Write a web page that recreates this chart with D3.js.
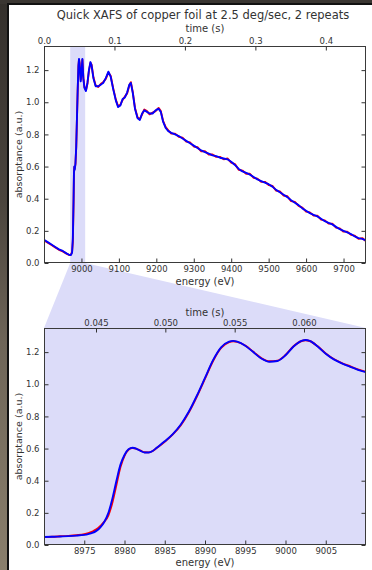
<!DOCTYPE html>
<html>
<head>
<meta charset="utf-8">
<script src="https://cdn.jsdelivr.net/npm/d3@7"></script>
<style>
html,body{margin:0;padding:0;background:#fff;}
svg{display:block;}
text{font-family:"DejaVu Sans",sans-serif;fill:#333;}
</style>
</head>
<body>
<svg id="chart" width="372" height="570"></svg>
<script>
// ---------- DATA ----------
const titleText = "Quick XAFS of copper foil at 2.5 deg/sec, 2 repeats";

// full scan (top panel)
const fullEnergy = [8900,8910,8920,8930,8940,8950,8960,8968,8972,8975,8977,8979,8980,8981,8982,8984,8986,8988,8990,8992,8993.5,8995,8998,9000,9002.5,9005,9008,9012,9016,9020,9024,9027,9032,9038,9045,9052,9058,9065,9072,9078,9085,9092,9098,9104,9110,9116,9122,9128,9132,9137,9143,9150,9156,9162,9168,9175,9182,9190,9198,9206,9212,9218,9225,9232,9240,9250,9260,9270,9280,9290,9300,9310,9320,9330,9340,9350,9360,9370,9380,9390,9400,9410,9420,9430,9440,9450,9460,9470,9480,9490,9500,9510,9520,9530,9540,9550,9560,9570,9580,9590,9600,9610,9620,9630,9640,9650,9660,9670,9680,9690,9700,9710,9720,9730,9740,9750,9760];
const fullBlue = [0.145,0.130,0.115,0.100,0.085,0.075,0.060,0.050,0.050,0.065,0.150,0.400,0.560,0.600,0.580,0.620,0.720,0.900,1.080,1.230,1.270,1.240,1.130,1.180,1.270,1.150,1.090,1.070,1.120,1.200,1.250,1.230,1.150,1.100,1.100,1.110,1.120,1.150,1.190,1.160,1.080,1.010,0.970,0.980,1.020,1.030,1.060,1.110,1.120,1.060,0.960,0.900,0.890,0.930,0.950,0.940,0.930,0.930,0.950,0.960,0.940,0.880,0.840,0.820,0.810,0.800,0.790,0.775,0.760,0.745,0.730,0.715,0.700,0.690,0.680,0.670,0.665,0.655,0.650,0.645,0.630,0.610,0.585,0.570,0.560,0.550,0.535,0.520,0.510,0.500,0.490,0.475,0.455,0.440,0.425,0.410,0.390,0.375,0.360,0.340,0.325,0.310,0.300,0.290,0.275,0.260,0.250,0.240,0.225,0.210,0.200,0.190,0.180,0.165,0.155,0.150,0.140];
const fullRed = [0.140,0.126,0.112,0.097,0.082,0.072,0.058,0.049,0.052,0.070,0.130,0.380,0.550,0.598,0.585,0.615,0.715,0.895,1.075,1.225,1.265,1.245,1.140,1.175,1.265,1.155,1.095,1.075,1.115,1.195,1.245,1.235,1.155,1.105,1.095,1.115,1.125,1.145,1.185,1.165,1.085,1.015,0.975,0.985,1.015,1.035,1.055,1.105,1.125,1.065,0.965,0.905,0.895,0.925,0.955,0.945,0.925,0.935,0.945,0.965,0.945,0.885,0.845,0.825,0.805,0.805,0.785,0.780,0.755,0.750,0.725,0.720,0.695,0.695,0.675,0.675,0.660,0.660,0.645,0.650,0.625,0.615,0.580,0.575,0.555,0.555,0.530,0.525,0.505,0.505,0.485,0.480,0.450,0.445,0.420,0.415,0.385,0.380,0.355,0.345,0.320,0.315,0.295,0.295,0.270,0.265,0.245,0.245,0.220,0.215,0.195,0.195,0.175,0.170,0.150,0.155,0.135];

// zoomed edge (bottom panel)
const edgeEnergy = [8970,8971,8972,8973,8974,8975,8975.5,8976,8976.5,8977,8977.5,8978,8978.5,8979,8979.5,8980,8980.5,8981,8981.5,8982,8982.5,8983,8983.5,8984,8985,8986,8987,8988,8989,8990,8991,8992,8993,8993.5,8994,8995,8996,8997,8998,8999,9000,9001,9002,9002.5,9003,9004,9005,9006,9007,9008,9009,9010];
const edgeBlue = [0.050,0.051,0.053,0.055,0.058,0.063,0.068,0.075,0.088,0.110,0.145,0.200,0.290,0.400,0.500,0.560,0.595,0.605,0.598,0.585,0.575,0.575,0.585,0.605,0.645,0.690,0.750,0.830,0.930,1.040,1.150,1.230,1.265,1.270,1.265,1.240,1.200,1.160,1.140,1.145,1.180,1.235,1.270,1.275,1.270,1.235,1.190,1.155,1.130,1.110,1.090,1.075];
const edgeRed = [0.049,0.051,0.054,0.057,0.061,0.067,0.074,0.084,0.097,0.118,0.145,0.185,0.265,0.375,0.485,0.555,0.593,0.603,0.598,0.587,0.577,0.576,0.585,0.603,0.642,0.688,0.746,0.826,0.925,1.035,1.145,1.226,1.262,1.268,1.264,1.241,1.202,1.163,1.143,1.147,1.182,1.236,1.269,1.274,1.269,1.236,1.192,1.157,1.132,1.112,1.092,1.077];

const yTicks = [0.0,0.2,0.4,0.6,0.8,1.0,1.2];
const fullEnergyTicks = [9000,9100,9200,9300,9400,9500,9600,9700];
const fullTimeTicks = [0.0,0.1,0.2,0.3,0.4];
const edgeEnergyTicks = [8975,8980,8985,8990,8995,9000,9005];
const edgeTimeTicks = [0.045,0.050,0.055,0.060];
const zoomWindow = [8970, 9010];

// ---------- LAYOUT ----------
const svg = d3.select("#chart");
const L = 44, R = 366;
const top1 = 46, bot1 = 263;
const top2 = 328, bot2 = 545;
const shade = "#dcdcf9";
const frameCol = "#3a3a3a";
const tickCol = "#333";

// background photo border
const defs = svg.append("defs");
const g1 = defs.append("linearGradient").attr("id","edgeGrad").attr("x1",0).attr("y1",0).attr("x2",0).attr("y2",1);
g1.append("stop").attr("offset","0%").attr("stop-color","#34302c");
g1.append("stop").attr("offset","35%").attr("stop-color","#4a443d");
g1.append("stop").attr("offset","60%").attr("stop-color","#6e6558");
g1.append("stop").attr("offset","100%").attr("stop-color","#8a7f6c");
svg.append("rect").attr("x",0).attr("y",0).attr("width",372).attr("height",570).attr("fill","url(#edgeGrad)");
svg.append("rect").attr("x",0).attr("y",0).attr("width",372).attr("height",4).attr("fill","#3a3632");
svg.append("rect").attr("x",7).attr("y",3).attr("width",365).attr("height",567).attr("fill","#111");
svg.append("rect").attr("x",9).attr("y",5).attr("width",363).attr("height",565).attr("fill","#fff");

// scales
const x1 = d3.scaleLinear().domain([8900, 9760]).range([L, R]);
const t1 = d3.scaleLinear().domain([0, 0.457]).range([L, R]);
const y1 = d3.scaleLinear().domain([0, 1.35]).range([bot1, top1]);
const x2 = d3.scaleLinear().domain([8970, 9010]).range([L, R]);
const t2 = d3.scaleLinear().domain([0.04125, 0.06447]).range([L, R]);
const y2 = d3.scaleLinear().domain([0, 1.35]).range([bot2, top2]);

// connector polygon + bottom bg
svg.append("polygon")
  .attr("points", [[x1(zoomWindow[0]), bot1],[x1(zoomWindow[1]), bot1],[R, top2],[L, top2]].map(p=>p.join(",")).join(" "))
  .attr("fill", shade);
svg.append("rect").attr("x",L).attr("y",top2).attr("width",R-L).attr("height",bot2-top2).attr("fill",shade);

// top panel span
svg.append("rect").attr("x",x1(zoomWindow[0])).attr("y",top1).attr("width",x1(zoomWindow[1])-x1(zoomWindow[0])).attr("height",bot1-top1).attr("fill",shade);

function drawPanel(xs, ts, ys, top, bot, eTicks, tTicks, tFmt, energy, red, blue, curve) {
  const clipId = "clip" + top;
  defs.append("clipPath").attr("id", clipId).append("rect").attr("x",L).attr("y",top).attr("width",R-L).attr("height",bot-top);
  const line = d3.line().x((d,i)=>xs(energy[i])).y(d=>ys(d)).curve(curve);
  const gl = svg.append("g").attr("clip-path","url(#"+clipId+")");
  gl.append("path").datum(red).attr("d", line).attr("fill","none").attr("stroke","#ff0000").attr("stroke-width",1.9).attr("stroke-linejoin","round");
  gl.append("path").datum(blue).attr("d", line).attr("fill","none").attr("stroke","#0000ff").attr("stroke-width",1.9).attr("stroke-linejoin","round");

  // frame
  svg.append("rect").attr("x",L+0.5).attr("y",top+0.5).attr("width",R-L-1).attr("height",bot-top-1)
    .attr("fill","none").attr("stroke",frameCol).attr("stroke-width",1);

  // bottom energy axis (ticks inside)
  const ax = d3.axisBottom(xs).tickValues(eTicks).tickSize(-4).tickPadding(3).tickFormat(d3.format("d"));
  const gx = svg.append("g").attr("transform","translate(0,"+(bot-0.5)+")").call(ax);
  // top time axis
  const at = d3.axisTop(ts).tickValues(tTicks).tickSize(-4).tickPadding(3).tickFormat(tFmt);
  const gt = svg.append("g").attr("transform","translate(0,"+(top+0.5)+")").call(at);
  // left y axis
  const ay = d3.axisLeft(ys).tickValues(yTicks).tickSize(-4).tickPadding(5).tickFormat(d3.format(".1f"));
  const gy = svg.append("g").attr("transform","translate("+(L+0.5)+",0)").call(ay);
  // right mirrored ticks
  const ar = d3.axisRight(ys).tickValues(yTicks).tickSize(-4).tickFormat("");
  const gr = svg.append("g").attr("transform","translate("+(R-0.5)+",0)").call(ar);
  [gx,gt,gy,gr].forEach(g=>{
    g.select(".domain").remove();
    g.selectAll(".tick line").attr("stroke",tickCol);
    g.selectAll(".tick text").attr("font-family","DejaVu Sans").attr("font-size","8.5px").attr("fill","#3a3a3a");
  });
}

drawPanel(x1, t1, y1, top1, bot1, fullEnergyTicks, fullTimeTicks, d3.format(".1f"), fullEnergy, fullRed, fullBlue, d3.curveLinear);
drawPanel(x2, t2, y2, top2, bot2, edgeEnergyTicks, edgeTimeTicks, d3.format(".3f"), edgeEnergy, edgeRed, edgeBlue, d3.curveMonotoneX);

// labels
const cx = (L+R)/2;
svg.append("text").attr("x",cx-2).attr("y",19).attr("text-anchor","middle").attr("font-size","11.5px").text(titleText);
svg.append("text").attr("x",cx).attr("y",31.5).attr("text-anchor","middle").attr("font-size","10px").text("time (s)");
svg.append("text").attr("x",cx).attr("y",284.5).attr("text-anchor","middle").attr("font-size","10px").text("energy (eV)");
svg.append("text").attr("x",cx).attr("y",315.5).attr("text-anchor","middle").attr("font-size","10px").text("time (s)");
svg.append("text").attr("x",cx).attr("y",566).attr("text-anchor","middle").attr("font-size","10px").text("energy (eV)");
[[top1,bot1],[top2,bot2]].forEach(([a,b])=>{
  svg.append("text").attr("transform","translate(22,"+((a+b)/2)+") rotate(-90)")
    .attr("text-anchor","middle").attr("font-size","9.5px").text("absorptance (a.u.)");
});
</script>
</body>
</html>
